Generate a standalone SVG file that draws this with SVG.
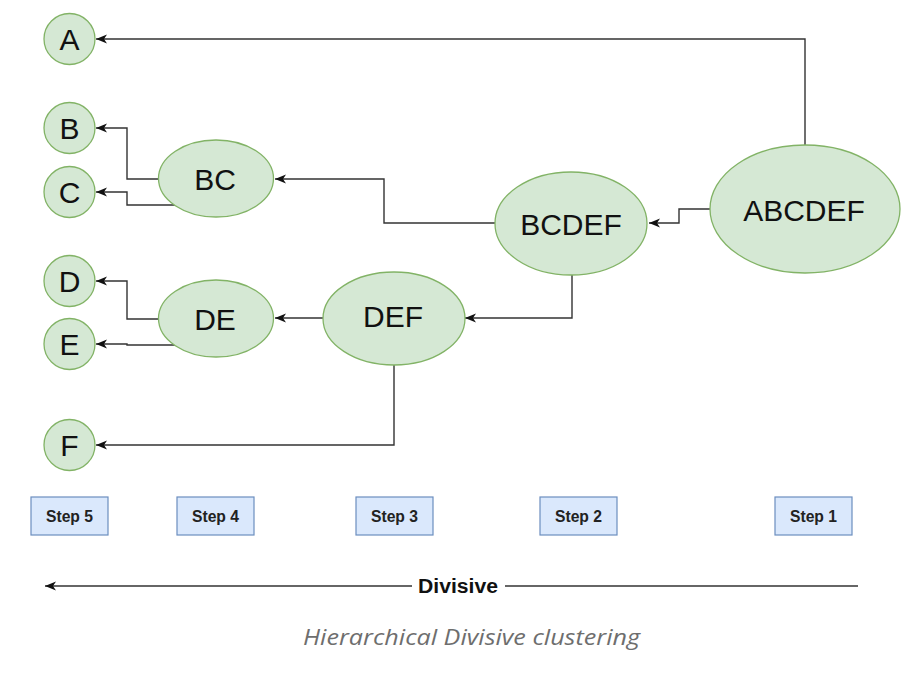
<svg xmlns="http://www.w3.org/2000/svg" width="915" height="680" viewBox="0 0 915 680">
  <style>
    .node { fill: #d5e8d4; stroke: #82b366; stroke-width: 1.3; }
    .lbl { font-family: "Liberation Sans", Arial, sans-serif; font-size: 30px; fill: #111; text-anchor: middle; }
    .edge { fill: none; stroke: #333; stroke-width: 1.4; }
    .step { fill: #dae8fc; stroke: #6c8ebf; stroke-width: 1.2; }
    .steplbl { font-family: "Liberation Sans", Arial, sans-serif; font-size: 16px; font-weight: bold; fill: #222; text-anchor: middle; }
    .div { font-family: "Liberation Sans", Arial, sans-serif; font-size: 20px; font-weight: bold; fill: #111; text-anchor: middle; }
    .cap { font-family: "Open Sans", "Noto Sans", sans-serif; font-size: 22px; font-style: italic; fill: #6e6e6e; text-anchor: middle; }
  </style>
  <defs>
    <marker id="arr" markerUnits="userSpaceOnUse" markerWidth="12" markerHeight="10" refX="11" refY="5" orient="auto">
      <path d="M0,0.5 L11,5 L0,9.5 L3,5 Z" fill="#111"/>
    </marker>
  </defs>
  <rect width="915" height="680" fill="#fff"/>

  <g id="connectors">
    <path class="edge" d="M805,145 V39 H96" marker-end="url(#arr)"/>
    <path class="edge" d="M710,209 H679 V223 H649" marker-end="url(#arr)"/>
    <path class="edge" d="M495,223 H384 V179 H275" marker-end="url(#arr)"/>
    <path class="edge" d="M572,275 V318 H465" marker-end="url(#arr)"/>
    <path class="edge" d="M323,318 H275" marker-end="url(#arr)"/>
    <path class="edge" d="M394,365 V445 H96" marker-end="url(#arr)"/>
    <path class="edge" d="M158,179 H127 V128 H96" marker-end="url(#arr)"/>
    <path class="edge" d="M175,205 H127 V192 H96" marker-end="url(#arr)"/>
    <path class="edge" d="M158,319 H127 V281 H96" marker-end="url(#arr)"/>
    <path class="edge" d="M175,345 H127 V344 H96" marker-end="url(#arr)"/>
  </g>

  <g id="node-A"><circle class="node" cx="69.5" cy="39" r="25.5"/><text class="lbl" x="69.5" y="50">A</text></g>
  <g id="node-B"><circle class="node" cx="69.5" cy="128" r="25.5"/><text class="lbl" x="69.5" y="139">B</text></g>
  <g id="node-C"><circle class="node" cx="69.5" cy="192" r="25.5"/><text class="lbl" x="69.5" y="203">C</text></g>
  <g id="node-D"><circle class="node" cx="69.5" cy="281" r="25.5"/><text class="lbl" x="69.5" y="292">D</text></g>
  <g id="node-E"><circle class="node" cx="69.5" cy="344" r="25.5"/><text class="lbl" x="69.5" y="355">E</text></g>
  <g id="node-F"><circle class="node" cx="69.5" cy="445" r="25.5"/><text class="lbl" x="69.5" y="456">F</text></g>

  <g id="node-BC"><ellipse class="node" cx="216" cy="178.5" rx="57.5" ry="38.5"/><text class="lbl" x="215" y="190">BC</text></g>
  <g id="node-DE"><ellipse class="node" cx="216" cy="318.5" rx="57.5" ry="38.5"/><text class="lbl" x="215" y="330">DE</text></g>
  <g id="node-DEF"><ellipse class="node" cx="394" cy="318.5" rx="71" ry="46.5"/><text class="lbl" x="393" y="327">DEF</text></g>
  <g id="node-BCDEF"><ellipse class="node" cx="571" cy="223.5" rx="76" ry="51.5"/><text class="lbl" x="571" y="235">BCDEF</text></g>
  <g id="node-ABCDEF"><ellipse class="node" cx="805" cy="209" rx="95" ry="64"/><text class="lbl" x="804" y="221">ABCDEF</text></g>

  <g id="step5"><rect class="step" x="31" y="497" width="77" height="38"/><text class="steplbl" x="69.5" y="522" textLength="47" lengthAdjust="spacingAndGlyphs">Step 5</text></g>
  <g id="step4"><rect class="step" x="177" y="497" width="77" height="38"/><text class="steplbl" x="215.5" y="522" textLength="47" lengthAdjust="spacingAndGlyphs">Step 4</text></g>
  <g id="step3"><rect class="step" x="356" y="497" width="77" height="38"/><text class="steplbl" x="394.5" y="522" textLength="47" lengthAdjust="spacingAndGlyphs">Step 3</text></g>
  <g id="step2"><rect class="step" x="540" y="497" width="77" height="38"/><text class="steplbl" x="578.5" y="522" textLength="47" lengthAdjust="spacingAndGlyphs">Step 2</text></g>
  <g id="step1"><rect class="step" x="775" y="497" width="77" height="38"/><text class="steplbl" x="813.5" y="522" textLength="47" lengthAdjust="spacingAndGlyphs">Step 1</text></g>

  <g id="divisive">
    <path class="edge" d="M412,586 H45" marker-end="url(#arr)"/>
    <path class="edge" d="M505,586 H858"/>
    <text class="div" x="458" y="593" textLength="80" lengthAdjust="spacingAndGlyphs">Divisive</text>
  </g>

  <text class="cap" x="471.5" y="645" textLength="337" lengthAdjust="spacingAndGlyphs">Hierarchical Divisive clustering</text>
</svg>
